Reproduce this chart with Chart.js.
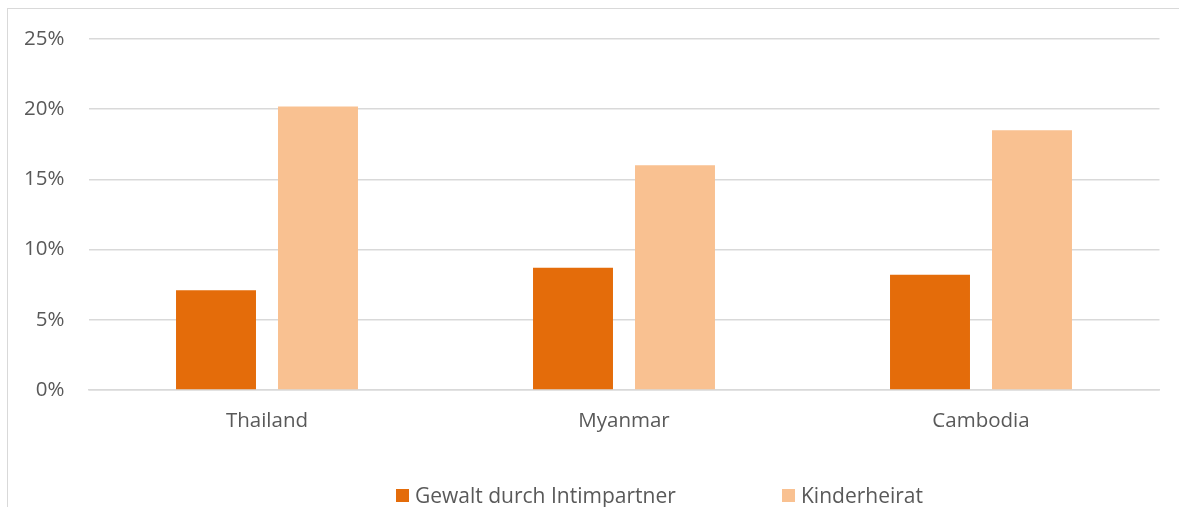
<!DOCTYPE html>
<html>
<head>
<meta charset="utf-8">
<script src="https://cdn.jsdelivr.net/npm/chart.js@4.4.1/dist/chart.umd.min.js"></script>
<style>
  html, body { margin: 0; padding: 0; width: 1179px; height: 507px; overflow: hidden; background: #fff; }
  #frame { position: absolute; left: 7px; top: 8px; width: 1300px; height: 600px; border: 1px solid #d9d9d9; box-sizing: border-box; }
  #wrap { position: absolute; left: 0; top: 0; width: 1179px; height: 507px; }
  #legend { position: absolute; top: 484px; left: 0; width: 1179px; height: 22px; font-family: "Open Sans", sans-serif; font-size: 21px; color: #595959; }
  .item { position: absolute; top: 0; height: 22px; display: flex; align-items: center; white-space: nowrap; }
  .box { width: 13px; height: 13px; margin-right: 6px; }
</style>
</head>
<body>
<div id="frame"></div>
<div id="wrap"><canvas id="c" width="1179" height="507"></canvas></div>
<div id="legend"></div>
<script>
const categories = ["Thailand", "Myanmar", "Cambodia"];
const seriesNames = ["Gewalt durch Intimpartner", "Kinderheirat"];
const gewaltValues = [0.071, 0.087, 0.082];
const kinderheiratValues = [0.202, 0.160, 0.185];
const seriesColors = ["#E46C0A", "#F9C191"];
const yTicks = [0, 0.05, 0.10, 0.15, 0.20, 0.25];
const legendX = [396, 782];

const textColor = "#595959";
const gridColor = "#d9d9d9";

const chart = new Chart(document.getElementById("c"), {
  type: "bar",
  data: {
    labels: categories,
    datasets: [
      { label: seriesNames[0], data: gewaltValues, backgroundColor: seriesColors[0], categoryPercentage: 0.5714, barPercentage: 0.784 },
      { label: seriesNames[1], data: kinderheiratValues, backgroundColor: seriesColors[1], categoryPercentage: 0.5714, barPercentage: 0.784 }
    ]
  },
  options: {
    responsive: false,
    animation: false,
    layout: { padding: { top: 39, right: 19.5, left: 0, bottom: 0 } },
    plugins: { legend: { display: false }, tooltip: { enabled: false } },
    scales: {
      x: {
        grid: { display: false, drawTicks: false },
        border: { display: true, color: gridColor, width: 1.5 },
        ticks: { color: textColor, font: { family: "Open Sans", size: 20.5 }, padding: 19 },
        afterFit: (s) => { s.height = 117; }
      },
      y: {
        min: 0, max: 0.25,
        afterBuildTicks: (s) => { s.ticks = yTicks.map(v => ({ value: v })); },
        grid: { color: gridColor, lineWidth: 1.5, drawTicks: false },
        border: { display: false },
        ticks: {
          color: textColor, font: { family: "Open Sans", size: 20.5 }, padding: 24,
          callback: (v) => Math.round(v * 100) + "%"
        },
        afterFit: (s) => { s.width = 88.5; }
      }
    }
  }
});

const leg = document.getElementById("legend");
seriesNames.forEach((name, i) => {
  const it = document.createElement("div");
  it.className = "item";
  it.style.left = legendX[i] + "px";
  const b = document.createElement("span");
  b.className = "box";
  b.style.background = seriesColors[i];
  const t = document.createElement("span");
  t.textContent = name;
  it.appendChild(b); it.appendChild(t);
  leg.appendChild(it);
});
</script>
</body>
</html>
